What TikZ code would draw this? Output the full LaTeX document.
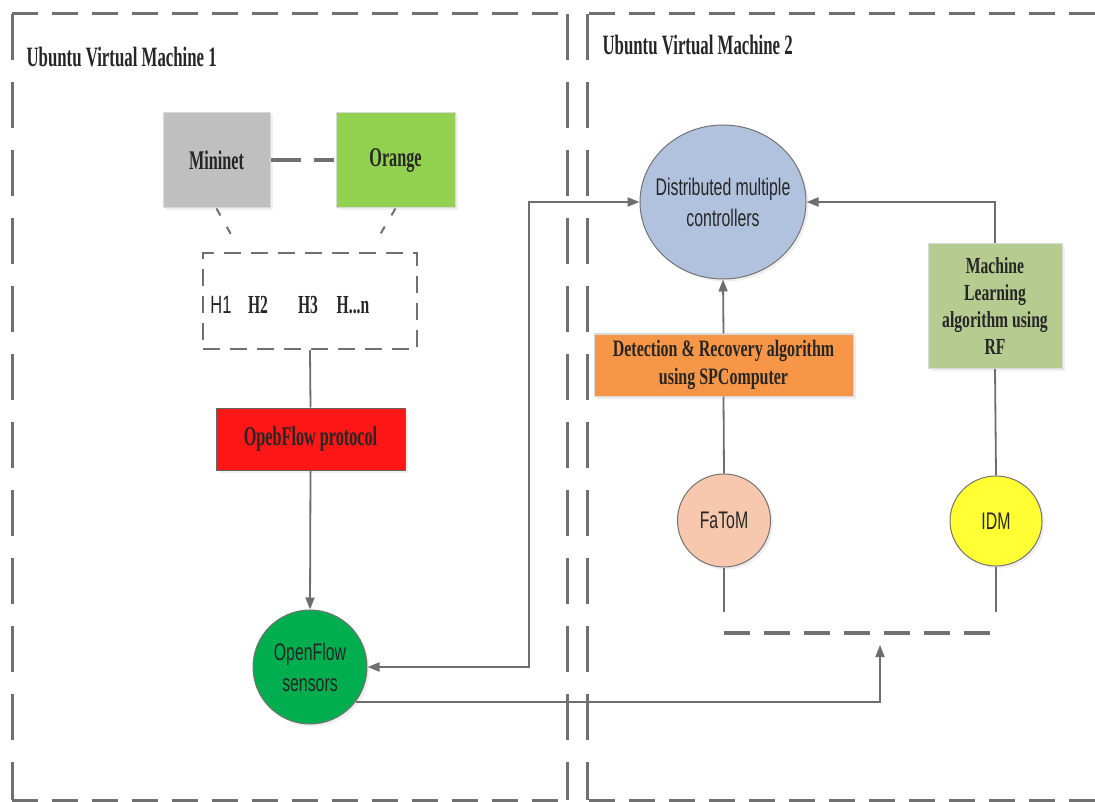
\documentclass[tikz,border=0pt]{standalone}
\usepackage{fontspec}
\usetikzlibrary{arrows.meta,shapes.geometric,shadows}

% condensed faces for the labels
\newfontfamily\labserif[FakeStretch=0.6]{Liberation Serif}
\newfontfamily\boxserif[FakeStretch=0.68]{Liberation Serif}
\newfontfamily\narrowsans[FakeStretch=0.66]{Liberation Sans}

\definecolor{edgegray}{HTML}{6E6E6E}
\definecolor{vmgray}{HTML}{707070}
\definecolor{mngray}{HTML}{BFBFBF}
\definecolor{orgreen}{HTML}{92D050}
\definecolor{protored}{HTML}{FF1616}
\definecolor{sensgreen}{HTML}{00AD4F}
\definecolor{ctrlblue}{HTML}{B0C2DE}
\definecolor{detorange}{HTML}{F79646}
\definecolor{mlgreen}{HTML}{B6CB8F}
\definecolor{fatompink}{HTML}{F8C8AE}
\definecolor{idmyellow}{HTML}{FFFF33}
\definecolor{txt}{HTML}{262626}

\tikzset{
  softshadow/.style={drop shadow={shadow xshift=2.5pt,shadow yshift=-2.5pt,opacity=0.12}},
  box/.style={rectangle,inner sep=0pt,draw=black!15,line width=1pt,text=txt,align=center,softshadow},
  circ/.style={ellipse,inner sep=0pt,draw=black!55,line width=1pt,text=txt,align=center,softshadow,
    font=\narrowsans\fontsize{24}{31}\selectfont},
  bigserif/.style={font=\labserif\bfseries\fontsize{27}{30}\selectfont},
  smallserif/.style={font=\boxserif\bfseries\fontsize{23.5}{28}\selectfont},
  link/.style={draw=edgegray,line width=1.8pt},
  tip/.style={-{Triangle[length=12pt,width=9pt]}},
  twotips/.style={{Triangle[length=12pt,width=9pt]}-{Triangle[length=12pt,width=9pt]}},
  vmh/.style={draw=vmgray,line width=3pt,dash pattern=on 26pt off 14pt},
  vmv/.style={draw=vmgray,line width=3pt,dash pattern=on 46pt off 22pt},
  hostframe/.style={rectangle,inner sep=0pt,draw=vmgray,line width=2.5pt,dash pattern=on 17pt off 10pt},
  pairlink/.style={draw=vmgray,line width=4pt,dash pattern=on 30pt off 13pt on 20pt off 40pt},
  diag/.style={draw=vmgray,line width=2pt,dash pattern=on 8pt off 13pt},
  busline/.style={draw=vmgray,line width=4pt,dash pattern=on 26pt off 14pt},
  vmtitle/.style={anchor=west,text=txt,font=\labserif\bfseries\fontsize{28}{32}\selectfont},
}

\begin{document}
\begin{tikzpicture}[x=1pt,y=-1pt]
\useasboundingbox (0,0) rectangle (1095,802);
\fill[white] (0,0) rectangle (1095,802);

% virtual machine frames
\draw[vmh] (12,14) -- (567,14);
\draw[vmh] (12,800) -- (567,800);
\draw[vmv] (12,14) -- (12,800);
\draw[vmv] (567,14) -- (567,800);
\draw[vmh] (589,14) -- (1095,14);
\draw[vmh] (589,800) -- (1095,800);
\draw[vmv] (587,14) -- (587,800);

\node[vmtitle] (vm1) at (23,57) {Ubuntu Virtual Machine 1};
\node[vmtitle] (vm2) at (599,45) {Ubuntu Virtual Machine 2};

% machine 1
\node[box,fill=mngray,bigserif,minimum width=107pt,minimum height=95pt] (mn) at (216.5,160.5) {Mininet};
\node[box,fill=orgreen,bigserif,minimum width=119pt,minimum height=95pt] (or) at (395.5,160.5) {Orange};
\draw[pairlink] (mn.east) -- (or.west);

\node[hostframe,minimum width=214pt,minimum height=96pt] (hosts) at (310,301) {};
\coordinate (hmL) at (233,238);
\coordinate (hmR) at (378,238);
\draw[diag] (mn.south) -- (hmL);
\draw[diag] (or.south) -- (hmR);

\node[text=txt,font=\narrowsans\fontsize{25}{28}\selectfont] (h1) at (221,305) {H1};
\node[text=txt,font=\labserif\bfseries\fontsize{26}{28}\selectfont] (h2) at (258,305) {H2};
\node[text=txt,font=\labserif\bfseries\fontsize{26}{28}\selectfont] (h3) at (308,305) {H3};
\node[text=txt,font=\labserif\bfseries\fontsize{26}{28}\selectfont] (hn) at (353,305) {H...n};

\node[box,draw=black!60,fill=protored,bigserif,minimum width=189pt,minimum height=62pt] (red) at (310.5,439) {OpebFlow protocol};
\node[circ,fill=sensgreen,inner xsep=-6pt,minimum width=114pt,minimum height=114pt] (sens) at (310,667) {OpenFlow\\sensors};

\draw[link] (hosts.south) -- (red.north);
\draw[link,tip] (red.south) -- (sens.north);

% machine 2
\node[circ,fill=ctrlblue,inner xsep=-12pt,minimum width=166pt,minimum height=154pt] (ctrl) at (723,202) {Distributed multiple\\controllers};
\node[box,fill=detorange,smallserif,minimum width=259pt,minimum height=62pt] (det) at (723.5,365) {Detection \& Recovery algorithm\\using SPComputer};
\node[box,fill=mlgreen,font=\boxserif\bfseries\fontsize{23}{27}\selectfont,minimum width=134pt,minimum height=125pt] (ml) at (995,306) {Machine\\Learning\\algorithm using\\RF};
\node[circ,fill=fatompink,minimum width=93pt,minimum height=93pt] (fatom) at (724,520.5) {FaToM};
\node[circ,fill=idmyellow,minimum width=92pt,minimum height=90pt] (idm) at (996,521) {IDM};

\coordinate (fb) at (724,612);
\coordinate (ib) at (996,612);
\coordinate (busL) at (724,633);
\coordinate (busR) at (997,633);
\coordinate (busA) at (880,645);
\coordinate (j1) at (529,202);

\draw[link,tip] (det.north) -- (ctrl.south);
\draw[link] (fatom.north) -- (det.south);
\draw[link] (fatom.south) -- (fb);
\draw[link] (idm.north) -- (ml.south);
\draw[link] (idm.south) -- (ib);
\draw[link,tip] (ml.north) |- (ctrl.east);
\draw[busline] (busL) -- (busR);

% links across the machines
\draw[link,twotips] (sens.east) -| (j1) -- (ctrl.west);
\draw[link,tip] (sens.-37) -| (busA);
\end{tikzpicture}
\end{document}
